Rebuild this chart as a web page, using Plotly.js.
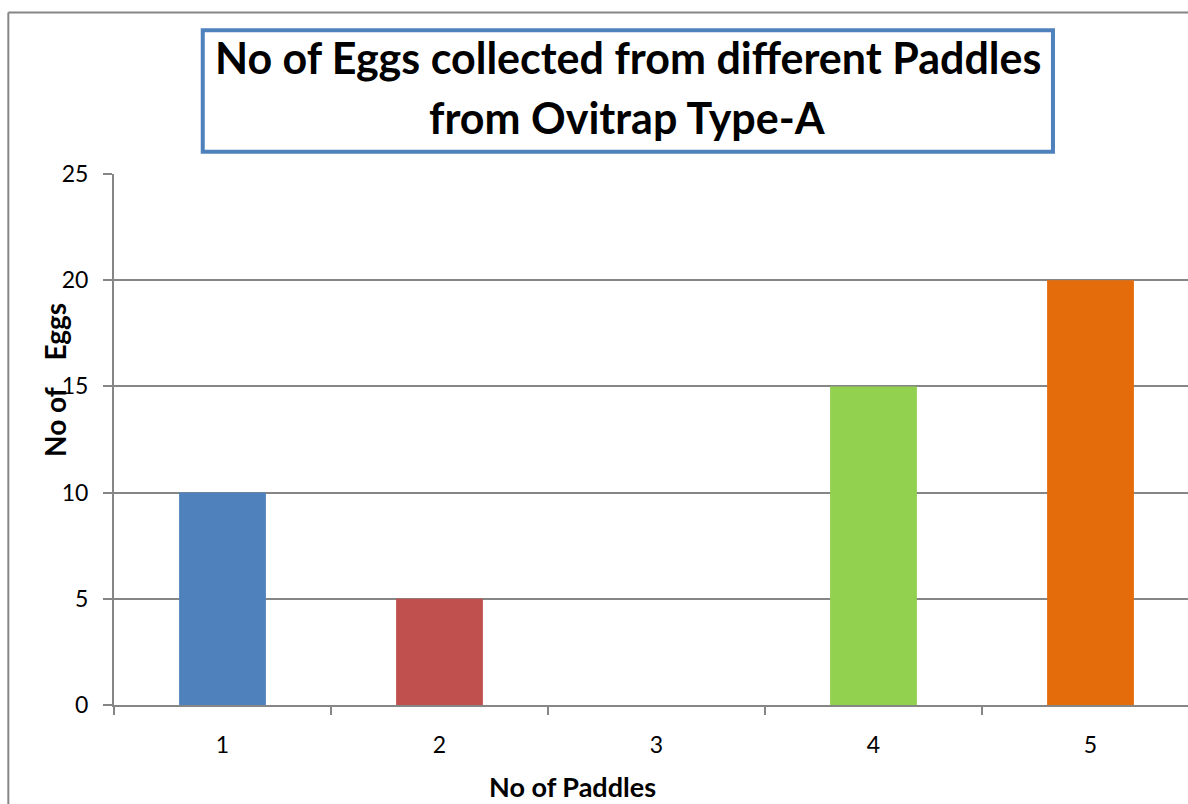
<!DOCTYPE html>
<html>
<head>
<meta charset="utf-8">
<script src="https://cdn.plot.ly/plotly-3.0.1.min.js"></script>
<style>
  html, body { margin: 0; padding: 0; overflow: hidden; background: #ffffff; }
  #chart { width: 1230px; height: 850px; }
</style>
</head>
<body>
<div id="chart"></div>
<script>
// Paddle categories and egg counts
const paddles = ["1", "2", "3", "4", "5"];
const eggs = [10, 5, 0, 15, 20];
const barColors = ["#4F81BD", "#C0504D", "#9BBB59", "#92D050", "#E46C0A"];
const yTicks = [0, 5, 10, 15, 20, 25];

const titleLine1 = "No of Eggs collected from different Paddles";
const titleLine2 = "from Ovitrap Type-A";
const xTitle = "No of Paddles";
const yTitle = "No of&nbsp;&nbsp;&nbsp;&nbsp;Eggs";

const axisGray = "#868686";
const fontFamily = "Lato, 'Open Sans', sans-serif";

const trace = {
  type: "bar",
  x: paddles,
  y: eggs,
  marker: { color: barColors, line: { width: 0 } },
  hoverinfo: "x+y"
};

const layout = {
  width: 1230,
  height: 850,
  margin: { l: 114, r: 31, t: 174, b: 145, pad: 0 },
  paper_bgcolor: "#ffffff",
  plot_bgcolor: "#ffffff",
  showlegend: false,
  bargap: 0.6,
  font: { family: fontFamily, color: "#000000", size: 22 },
  xaxis: {
    type: "category",
    tickson: "boundaries",
    ticks: "outside",
    ticklen: 8,
    tickwidth: 2,
    tickcolor: axisGray,
    showline: true,
    linecolor: axisGray,
    linewidth: 2,
    showgrid: false,
    zeroline: false,
    ticklabelstandoff: 18,
    tickfont: { family: fontFamily, size: 23, color: "#000000" }
  },
  yaxis: {
    range: [0, 25],
    tickvals: yTicks,
    ticks: "outside",
    ticklen: 9,
    tickwidth: 2,
    tickcolor: axisGray,
    showline: true,
    linecolor: axisGray,
    linewidth: 2,
    showgrid: true,
    gridcolor: axisGray,
    gridwidth: 2,
    zeroline: false,
    ticklabelstandoff: 10,
    tickfont: { family: fontFamily, size: 23, color: "#000000" }
  },
  shapes: [
    // chart frame (left and top edges)
    { type: "line", xref: "paper", yref: "paper", x0: -0.0974, x1: -0.0974, y0: -0.5, y1: 1.3041,
      line: { color: axisGray, width: 2 } },
    { type: "line", xref: "paper", yref: "paper", x0: -0.0974, x1: 1.2, y0: 1.3041, y1: 1.3041,
      line: { color: axisGray, width: 2 } },
    // title box
    { type: "rect", xref: "paper", yref: "paper", x0: 0.0818, x1: 0.8654, y0: 1.0420, y1: 1.2706,
      line: { color: "#4F81BD", width: 4 }, fillcolor: "rgba(0,0,0,0)" }
  ],
  annotations: [
    { text: "<b>" + titleLine1 + "</b>", xref: "paper", yref: "paper", x: 0.4737, y: 1.2203,
      xanchor: "center", yanchor: "middle", showarrow: false,
      font: { family: fontFamily, size: 43, color: "#000000" } },
    { text: "<b>" + titleLine2 + "</b>", xref: "paper", yref: "paper", x: 0.4737, y: 1.1073,
      xanchor: "center", yanchor: "middle", showarrow: false,
      font: { family: fontFamily, size: 43, color: "#000000" } },
    { text: "<b>" + xTitle + "</b>", xref: "paper", yref: "paper", x: 0.423, y: -0.1544,
      xanchor: "center", yanchor: "middle", showarrow: false,
      font: { family: fontFamily, size: 27, color: "#000000" } },
    { text: "<b>" + yTitle + "</b>", xref: "paper", yref: "paper", x: -0.0544, y: 0.612,
      xanchor: "center", yanchor: "middle", showarrow: false, textangle: -90,
      font: { family: fontFamily, size: 28, color: "#000000" } }
  ]
};

Plotly.newPlot("chart", [trace], layout, { displayModeBar: false, staticPlot: true });
</script>
</body>
</html>
